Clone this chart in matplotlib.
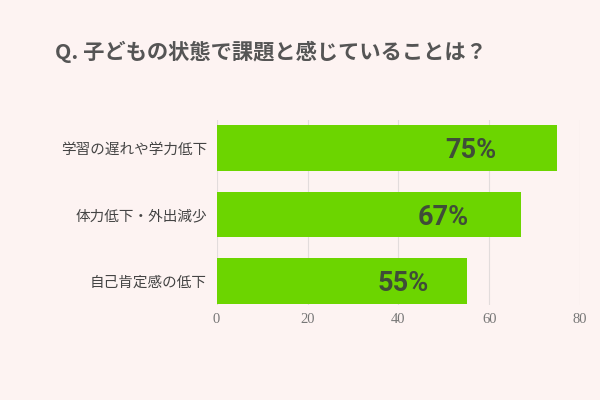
import matplotlib
matplotlib.use('Agg')
import matplotlib.pyplot as plt

plt.rcParams['font.family'] = ['Noto Sans CJK JP', 'DejaVu Sans']

categories = ['学習の遅れや学力低下', '体力低下・外出減少', '自己肯定感の低下']
values = [75, 67, 55]
value_labels = ['75%', '67%', '55%']
xticks = [0, 20, 40, 60, 80]
title = 'Q. 子どもの状態で課題と感じていることは？'

bg = '#fdf3f2'
bar_color = '#6cd500'

fig = plt.figure(figsize=(6, 4), dpi=100, facecolor=bg)
ax = fig.add_axes([0.361, 0.2375, 0.606, 0.4625], facecolor=bg)

ypos = list(range(len(categories)))
ax.barh(ypos, values, height=0.68, color=bar_color, zorder=2)

for y, v, lab in zip(ypos, values, value_labels):
    ax.text(v * 0.745, y + 0.04, lab, ha='center', va='center',
            fontsize=19.5, fontweight='bold', color='#3f4d38',
            family=['Roboto', 'DejaVu Sans'], zorder=3)

ax.set_xlim(0, 80)
ax.set_ylim(2.36, -0.42)
ax.set_yticks(ypos)
ax.set_yticklabels(categories, fontsize=10.5, color='#444444')
ax.set_xticks(xticks)
ax.set_xticklabels([str(t) for t in xticks], fontsize=10.5, color='#777777',
                   family=['Liberation Serif'])
ax.tick_params(axis='both', length=0)
ax.tick_params(axis='y', pad=7)
ax.tick_params(axis='x', pad=6)
ax.grid(axis='x', color='#e2dcdc', linewidth=0.8, zorder=1)
for s in ax.spines.values():
    s.set_visible(False)

fig.text(0.092, 0.87, title, ha='left', va='center', fontsize=15.3,
         fontweight='bold', color='#555555')

fig.savefig('out.png', dpi=100, facecolor=bg)
